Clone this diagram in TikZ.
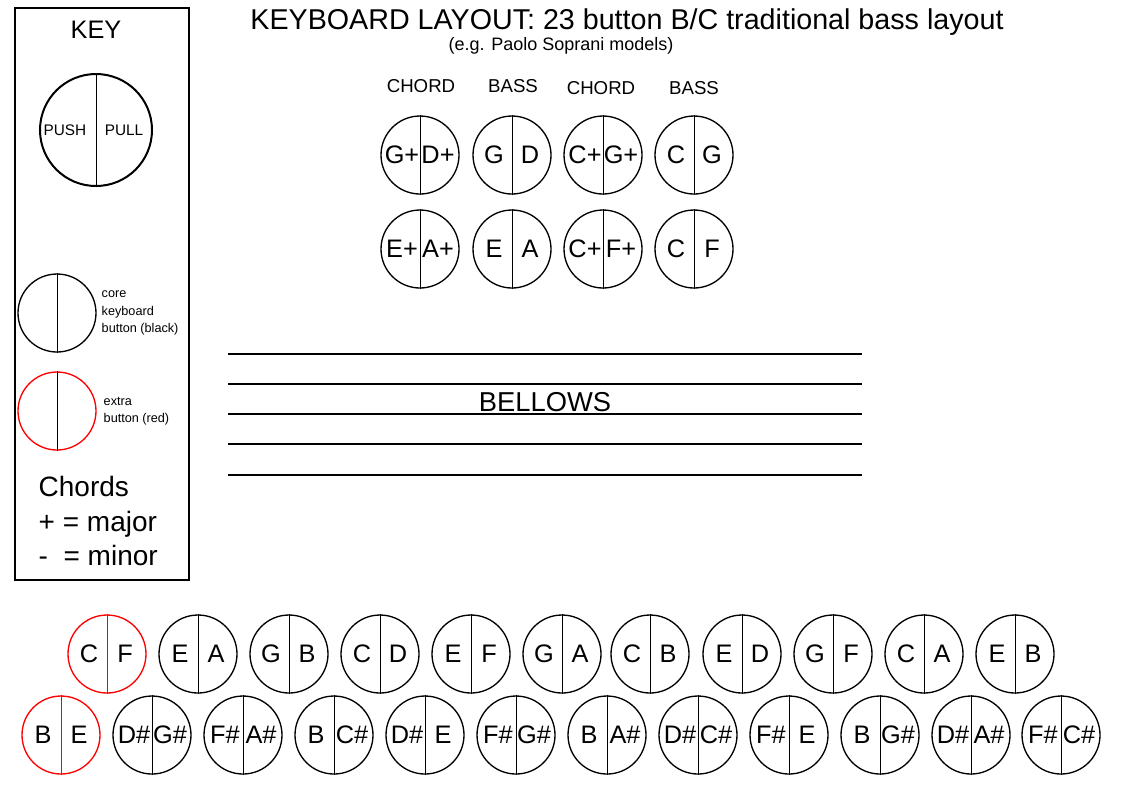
\documentclass[tikz,border=0pt]{standalone}
\usepackage{fontspec}
\setmainfont{Liberation Sans}
\begin{document}
\begin{tikzpicture}[x=0.75pt,y=-0.75pt,
  btn/.style={circle,draw,line width=1pt,minimum size=58.5pt,inner sep=0pt},
  lbl/.style={font=\fontsize{19}{19}\selectfont,inner sep=0pt}]
\useasboundingbox (0,0) rectangle (1123,794);
\newcommand{\bt}[6]{%
  \node[btn,draw=#6] (#1) at (#2,#3) {};
  \draw[#6,line width=0.6pt] (#1.north) -- (#1.south);
  \node[lbl] at (#2-18,#3) {#4};
  \node[lbl] at (#2+18,#3) {#5};}
% key
\draw[line width=0.8pt] (15,8) rectangle (189,580);
\node[font=\fontsize{19}{19}\selectfont] (key) at (96,30) {KEY};
\node[circle,draw,line width=1.5pt,minimum size=84pt,inner sep=0pt] (kc) at (96,130) {};
\draw[line width=0.6pt] (kc.north) -- (kc.south);
\node[font=\fontsize{11.5}{11.5}\selectfont] at (65,130) {PUSH};
\node[font=\fontsize{11.5}{11.5}\selectfont] at (124,130) {PULL};
\node[circle,draw,line width=1pt,minimum size=58.5pt,inner sep=0pt] (kb) at (57,313) {};
\draw[line width=0.6pt] (kb.north) -- (kb.south);
\node[circle,draw=red,line width=1pt,minimum size=58.5pt,inner sep=0pt] (kr) at (57,411) {};
\draw[line width=0.6pt] (kr.north) -- (kr.south);
\node[font=\fontsize{9.5}{13}\selectfont,align=left,anchor=west] at (97,313) {core\\keyboard\\button (black)};
\node[font=\fontsize{9.5}{13}\selectfont,align=left,anchor=west] at (99,411) {extra\\button (red)};
\node[font=\fontsize{21}{26}\selectfont,align=left,anchor=west] at (34,521) {Chords\\+ = major\\-\ \ = minor};
% title
\node[font=\fontsize{21.5}{21.5}\selectfont] (title) at (627,22) {KEYBOARD LAYOUT: 23 button B/C traditional bass layout};
\node[font=\fontsize{13.5}{13.5}\selectfont] (sub) at (561,46) {(e.g. Paolo Soprani models)};
% bass side
\foreach \t/\x/\y in {CHORD/421/86,BASS/513/86,CHORD/601/88,BASS/694/88}
  \node[font=\fontsize{14}{14}\selectfont] at (\x,\y) {\t};
\bt{u1}{420}{155}{G+}{D+}{black}
\bt{u2}{512}{155}{G}{D}{black}
\bt{u3}{603}{155}{C+}{G+}{black}
\bt{u4}{694}{155}{C}{G}{black}
\bt{u5}{420}{249}{E+}{A+}{black}
\bt{u6}{512}{249}{E}{A}{black}
\bt{u7}{603}{249}{C+}{F+}{black}
\bt{u8}{694}{249}{C}{F}{black}
% bellows
\foreach \y in {354,384,414,444,475} \draw[line width=0.8pt] (228,\y) -- (862,\y);
\node[font=\fontsize{20.5}{20.5}\selectfont] (bel) at (545,402) {BELLOWS};
% keyboard
\bt{a1}{107}{654}{C}{F}{red}
\bt{a2}{198}{654}{E}{A}{black}
\bt{a3}{289}{654}{G}{B}{black}
\bt{a4}{380}{654}{C}{D}{black}
\bt{a5}{471}{654}{E}{F}{black}
\bt{a6}{562}{654}{G}{A}{black}
\bt{a7}{650}{654}{C}{B}{black}
\bt{a8}{742}{654}{E}{D}{black}
\bt{a9}{833}{654}{G}{F}{black}
\bt{a10}{924}{654}{C}{A}{black}
\bt{a11}{1015}{654}{E}{B}{black}
\bt{b1}{61}{735}{B}{E}{red}
\bt{b2}{152}{735}{D\#}{G\#}{black}
\bt{b3}{243}{735}{F\#}{A\#}{black}
\bt{b4}{334}{735}{B}{C\#}{black}
\bt{b5}{425}{735}{D\#}{E}{black}
\bt{b6}{516}{735}{F\#}{G\#}{black}
\bt{b7}{607}{735}{B}{A\#}{black}
\bt{b8}{698}{735}{D\#}{C\#}{black}
\bt{b9}{789}{735}{F\#}{E}{black}
\bt{b10}{880}{735}{B}{G\#}{black}
\bt{b11}{971}{735}{D\#}{A\#}{black}
\bt{b12}{1061}{735}{F\#}{C\#}{black}
\end{tikzpicture}
\end{document}
